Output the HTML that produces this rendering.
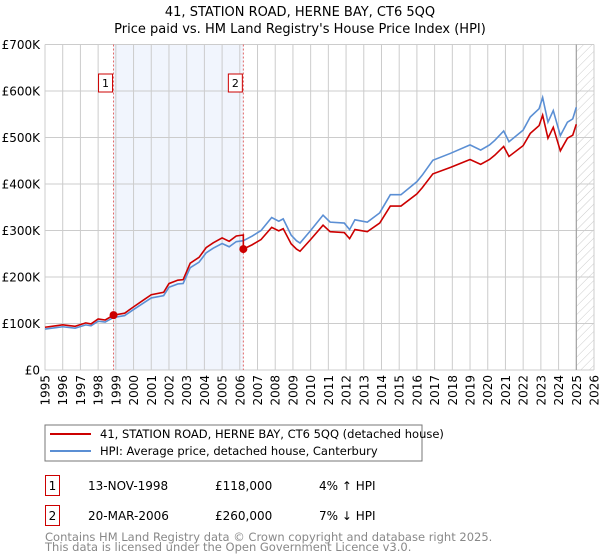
<!DOCTYPE html>
<html><head><meta charset="utf-8"><style>
body{margin:0;background:#fff;font-family:"Liberation Sans","DejaVu Sans",sans-serif;}
svg{display:block}
</style></head><body>
<svg id="chart" width="600" height="560" xmlns="http://www.w3.org/2000/svg" font-family="DejaVu Sans, Liberation Sans, sans-serif">
<defs><pattern id="hatch" width="6" height="6" patternUnits="userSpaceOnUse" patternTransform="rotate(45)"><line x1="0" y1="0" x2="0" y2="6" stroke="#ccc" stroke-width="1"/></pattern></defs>
<text x="300" y="16" text-anchor="middle" font-size="13">41, STATION ROAD, HERNE BAY, CT6 5QQ</text>
<text x="300" y="33" text-anchor="middle" font-size="13">Price paid vs. HM Land Registry's House Price Index (HPI)</text>
<g id="plot"></g>
<rect x="45" y="425" width="377" height="36" fill="#fff" stroke="#777"/>
<line x1="50" y1="434" x2="91" y2="434" stroke="#cc0000" stroke-width="2"/>
<text x="100" y="438" font-size="11.5">41, STATION ROAD, HERNE BAY, CT6 5QQ (detached house)</text>
<line x1="50" y1="451" x2="91" y2="451" stroke="#5b8fd4" stroke-width="2"/>
<text x="100" y="455" font-size="11.5">HPI: Average price, detached house, Canterbury</text>
<g font-size="12">
<rect x="45.5" y="475.5" width="14" height="20" fill="#fff" stroke="#cc0000"/>
<text x="52.5" y="490" text-anchor="middle">1</text>
<text x="88" y="490">13-NOV-1998</text>
<text x="215" y="490">£118,000</text>
<text x="319" y="490">4% ↑ HPI</text>
<rect x="45.5" y="505.5" width="14" height="20" fill="#fff" stroke="#cc0000"/>
<text x="52.5" y="520" text-anchor="middle">2</text>
<text x="88" y="520">20-MAR-2006</text>
<text x="215" y="520">£260,000</text>
<text x="319" y="520">7% ↓ HPI</text>
</g>
<text x="45" y="541" font-size="11.5" fill="#888">Contains HM Land Registry data © Crown copyright and database right 2025.</text>
<text x="45" y="551" font-size="11.5" fill="#888">This data is licensed under the Open Government Licence v3.0.</text>
</svg>
<script>
const hpiYears=[1995,1995.6,1996,1996.7,1997.3,1997.6,1998,1998.4,1998.87,1999.5,2000,2000.6,2001,2001.7,2002,2002.5,2002.8,2003.2,2003.7,2004.1,2004.5,2005,2005.4,2005.8,2006.2,2006.7,2007.2,2007.8,2008.2,2008.45,2008.9,2009.2,2009.4,2010.0,2010.7,2011.1,2011.9,2012.2,2012.5,2013.2,2013.9,2014.5,2015.1,2016.0,2016.3,2016.9,2017.9,2019.0,2019.6,2020.1,2020.4,2020.9,2021.2,2022.0,2022.4,2022.9,2023.1,2023.4,2023.7,2024.1,2024.5,2024.8,2025.0];
const hpiValues=[88,91,93,90,97,95,105,103,113,117,130,145,155,160,178,185,186,220,232,252,262,272,265,276,278,288,300,328,320,325,290,278,273,300,333,318,316,302,323,318,338,377,377,405,419,451,466,484,473,484,494,514,491,516,544,562,586,533,558,504,533,540,565];
const saleYears=[1998.87,2006.2];
const salePrices=[118,260];
const yTicks=[0,100,200,300,400,500,600,700];
const yTickLabels=["£0","£100K","£200K","£300K","£400K","£500K","£600K","£700K"];
const xTicks=[1995,1996,1997,1998,1999,2000,2001,2002,2003,2004,2005,2006,2007,2008,2009,2010,2011,2012,2013,2014,2015,2016,2017,2018,2019,2020,2021,2022,2023,2024,2025,2026];

const L=45,R=594,T=44.5,B=370;
const xS=y=>L+(y-1995)/(2026-1995)*(R-L);
const yS=v=>B-v/700*(B-T);
const NS="http://www.w3.org/2000/svg";
const g=document.getElementById('plot');
function mk(tag,at,parent){const e=document.createElementNS(NS,tag);for(const k in at)e.setAttribute(k,at[k]);(parent||g).appendChild(e);return e;}
function hpiAt(t){for(let i=1;i<hpiYears.length;i++){if(t<=hpiYears[i]){const f=(t-hpiYears[i-1])/(hpiYears[i]-hpiYears[i-1]);return hpiValues[i-1]+f*(hpiValues[i]-hpiValues[i-1]);}}return hpiValues[hpiValues.length-1];}

let r=mk('rect',{x:xS(saleYears[0]),y:T,width:xS(saleYears[1])-xS(saleYears[0]),height:B-T,fill:'#eef3fc',opacity:0.8});


let h=mk('rect',{x:xS(2025),y:T,width:R-xS(2025),height:B-T,fill:'url(#hatch)'});


xTicks.forEach((t,i)=>{
 const x=xS(t);
 const l=mk('line',{x1:x,y1:T,x2:x,y2:B,stroke:'#ccc','stroke-width':1});
 
 
 const tx=mk('text',{x:0,y:0,'font-size':12,'text-anchor':'end',transform:`translate(${x+4.5},375) rotate(-90)`});
 tx.textContent=t;
 
 
});
yTicks.forEach((v,i)=>{
 const y=yS(v);
 const l=mk('line',{x1:L,y1:y,x2:R,y2:y,stroke:'#ccc','stroke-width':1});
 
 
 const tx=mk('text',{x:40,y:y+4.5,'font-size':12,'text-anchor':'end'});
 tx.textContent=yTickLabels[i];
 
 
});
const v25=mk('line',{x1:xS(2025),y1:T,x2:xS(2025),y2:B,stroke:'#999','stroke-width':1});


saleYears.forEach((t,i)=>{
 const l=mk('line',{x1:xS(t),y1:T,x2:xS(t),y2:B,stroke:'#e06666','stroke-width':1,'stroke-dasharray':'2,2'});
 
 
 const b=mk('rect',{x:xS(t)-15,y:74,width:14,height:18,fill:'#fff',stroke:'#cc0000'});
 
 
 const tx=mk('text',{x:xS(t)-8,y:87,'font-size':11,'text-anchor':'middle'});
 tx.textContent=String(i+1);
 
 
});
const hp=mk('polyline',{points:hpiYears.map((t,i)=>xS(t)+','+yS(hpiValues[i])).join(' '),fill:'none',stroke:'#5b8fd4','stroke-width':1.6});


// property line: indexed from each sale by HPI
const pts=[];
hpiYears.forEach((t,i)=>{
 if(t>saleYears[0]&&i>0&&hpiYears[i-1]<saleYears[0]) pts.push([saleYears[0],null]);
 if(t>saleYears[1]&&i>0&&hpiYears[i-1]<saleYears[1]) pts.push([saleYears[1],null]);
 pts.push([t,null]);
});
const red=[];
pts.forEach(([t])=>{
 let k=t<saleYears[1]?0:1;
 if(t===saleYears[1]){red.push([t,salePrices[0]*hpiAt(t)/hpiAt(saleYears[0])]);}
 red.push([t,salePrices[k]*hpiAt(t)/hpiAt(saleYears[k])]);
});
const pp=mk('polyline',{points:red.map(p=>xS(p[0])+','+yS(p[1])).join(' '),fill:'none',stroke:'#cc0000','stroke-width':1.6});


saleYears.forEach((t,i)=>{
 const c=mk('circle',{cx:xS(t),cy:yS(salePrices[i]),r:4,fill:'#cc0000'});
 
 
});
</script>
</body></html>
